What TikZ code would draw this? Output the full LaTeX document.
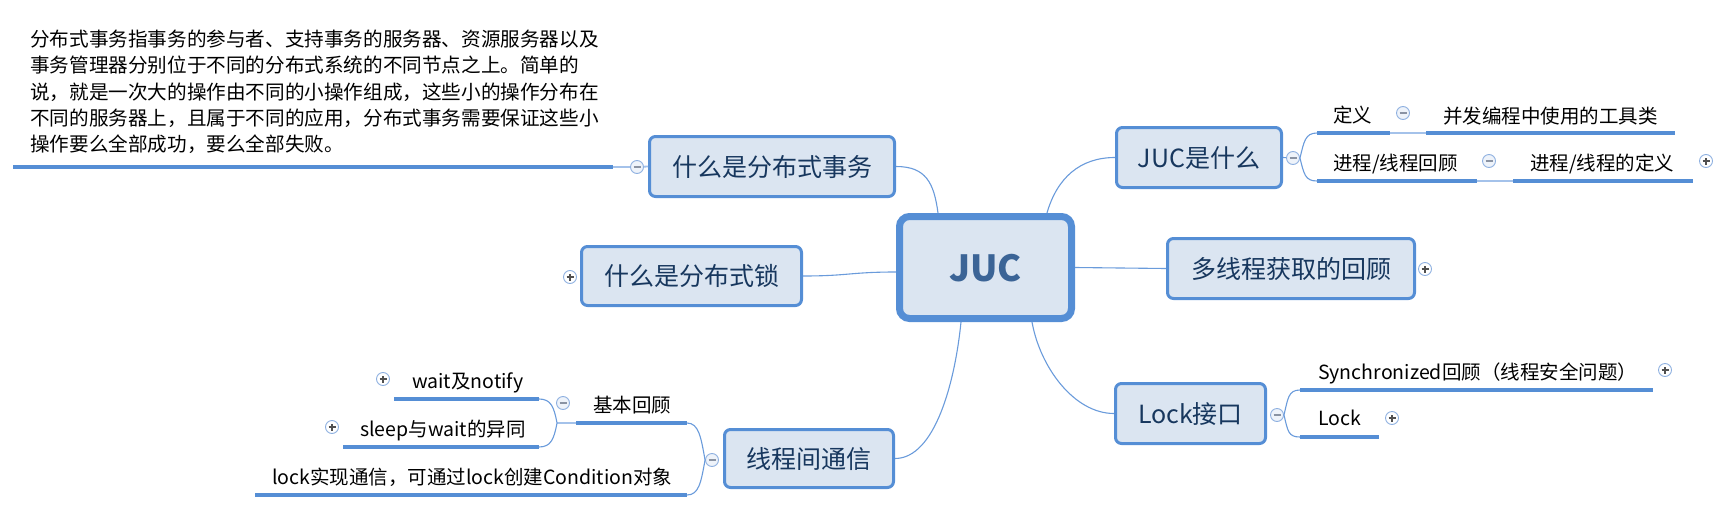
\documentclass[tikz,border=0pt]{standalone}
\usepackage{fontspec}
\setmainfont{Noto Sans CJK SC}
\usetikzlibrary{calc}
\definecolor{boxfill}{HTML}{DBE5F1}
\definecolor{boxborder}{HTML}{558ED5}
\definecolor{topictext}{HTML}{17375E}
\definecolor{juctext}{HTML}{3B6496}
\definecolor{ulcol}{HTML}{558ED5}
\definecolor{conncol}{HTML}{6A9BDB}
\definecolor{linkcol}{HTML}{A4C2EA}
\definecolor{circcol}{HTML}{8EB0E0}
\definecolor{circfill}{HTML}{EEF3FA}
\definecolor{signcol}{HTML}{8A93A3}
\definecolor{plussign}{HTML}{505050}
\tikzset{
  topic/.style={draw=boxborder, fill=boxfill, line width=3pt, rounded corners=6pt,
    text=topictext, font=\fontsize{25}{30}\selectfont, inner sep=0pt,
    text height=22pt, text depth=3pt},
  jucbox/.style={draw=boxborder, fill=boxfill, line width=7pt, rounded corners=10pt,
    text=juctext, font=\fontsize{36}{42}\selectfont\bfseries, inner sep=0pt,
    text height=27pt, text depth=0pt, minimum width=172pt, minimum height=102pt},
  subt/.style={font=\fontsize{19.5}{24}\selectfont, inner sep=0pt, anchor=west,
    text height=18pt, text depth=3pt},
  para/.style={font=\fontsize{19.6}{26.2}\selectfont, inner sep=0pt, align=left, anchor=north west},
  uline/.style={draw=ulcol, line width=4pt},
  conn/.style={draw=conncol, line width=1.1pt},
  link/.style={draw=linkcol, line width=1.8pt},
  minusc/.style={circle, draw=circcol, fill=circfill, line width=0.9pt, minimum size=13pt, inner sep=0pt,
    path picture={\draw[signcol, line width=1.3pt]
      ([xshift=-3.5pt]path picture bounding box.center) -- ([xshift=3.5pt]path picture bounding box.center);}},
  plusc/.style={circle, draw=circcol, fill=white, line width=0.9pt, minimum size=13pt, inner sep=0pt,
    path picture={\draw[plussign, line width=1.1pt]
      ([xshift=-3.5pt]path picture bounding box.center) -- ([xshift=3.5pt]path picture bounding box.center)
      ([yshift=-3.5pt]path picture bounding box.center) -- ([yshift=3.5pt]path picture bounding box.center);}},
}
\begin{document}
\begin{tikzpicture}[x=1pt,y=-1pt]
\useasboundingbox (0,0) rectangle (1722,514);

% ---------- main topics ----------
\node[jucbox] (JUC) at (985.5,267.5) {JUC};
\node[topic, minimum width=245pt, minimum height=60pt] (T1) at (772,166.5) {什么是分布式事务};
\node[topic, minimum width=220pt, minimum height=59pt] (T2) at (691.5,276) {什么是分布式锁};
\node[topic, minimum width=165pt, minimum height=60pt] (T3) at (1199,157.5) {JUC是什么};
\node[topic, minimum width=247pt, minimum height=60pt] (T4) at (1291,268.5) {多线程获取的回顾};
\node[topic, minimum width=150pt, minimum height=60pt] (T5) at (1190.5,413.5) {Lock接口};
\node[topic, minimum width=169pt, minimum height=58pt] (T6) at (809,458.5) {线程间通信};

% ---------- connectors from JUC ----------
\draw[conn] ($(JUC.north)+(-47.5,0)$) .. controls +(-4,-30) and +(30,0) .. (T1.east);
\draw[conn] ($(JUC.west)+(0,4.5)$) .. controls +(-45,0) and +(45,0) .. (T2.east);
\draw[conn] ($(JUC.north)+(61.5,0)$) .. controls +(10,-35) and +(-35,0) .. (T3.west);
\draw[conn] (JUC.east) -- (T4.west);
\draw[conn] ($(JUC.south)+(46.5,0)$) .. controls +(8,45) and +(-40,0) .. (T5.west);
\draw[conn] ($(JUC.south)+(-24.5,0)$) .. controls +(-6,60) and +(40,0) .. (T6.east);

% ---------- 什么是分布式事务 ----------
\node[para] (P) at (30,30) {分布式事务指事务的参与者、支持事务的服务器、资源服务器以及\\
事务管理器分别位于不同的分布式系统的不同节点之上。简单的\\
说，就是一次大的操作由不同的小操作组成，这些小的操作分布在\\
不同的服务器上，且属于不同的应用，分布式事务需要保证这些小\\
操作要么全部成功，要么全部失败。};
\coordinate (PL) at (13,167);
\coordinate (PR) at (613,167);
\node[minusc] (m1) at (637,167) {};
\draw[uline] (PL) -- (PR);
\draw[link] (PR) -- (m1);
\draw[link] (m1) -- (T1.west);

% ---------- 什么是分布式锁 ----------
\node[plusc] (p2) at (570,277) {};

% ---------- JUC是什么 ----------
\node[minusc] (m3) at (1293,158) {};
\draw[conn] (T3.east) -- (m3);
\node[subt] (defT) at (1333,115) {定义};
\coordinate (defL) at (1317,133);
\coordinate (defR) at (1390,133);
\node[minusc] (md) at (1403,113) {};
\node[subt] (bingT) at (1443,116) {并发编程中使用的工具类};
\coordinate (bingL) at (1426,133);
\coordinate (bingR) at (1675,133);
\node[subt] (jcT) at (1333,163) {进程/线程回顾};
\coordinate (jcL) at (1317,181);
\coordinate (jcR) at (1477,181);
\node[minusc] (mj) at (1489,161) {};
\node[subt] (jcdT) at (1530,163) {进程/线程的定义};
\coordinate (jcdL) at (1513,181);
\coordinate (jcdR) at (1693,181);
\node[plusc] (pj) at (1706,161) {};
\draw[conn] (m3.east) .. controls +(4,-16) and +(-12,0) .. (defL);
\draw[conn] (m3.east) .. controls +(4,16) and +(-12,0) .. (jcL);
\draw[uline] (defL) -- (defR);
\draw[link] (defR) -- (bingL);
\draw[uline] (bingL) -- (bingR);
\draw[uline] (jcL) -- (jcR);
\draw[link] (jcR) -- (jcdL);
\draw[uline] (jcdL) -- (jcdR);

% ---------- 多线程获取的回顾 ----------
\node[plusc] (p4) at (1425,269) {};

% ---------- Lock接口 ----------
\node[minusc] (m5) at (1277,415) {};
\node[subt] (synT) at (1318,372) {Synchronized回顾（线程安全问题）};
\coordinate (synL) at (1300,390);
\coordinate (synR) at (1653,390);
\node[plusc] (ps) at (1665,370) {};
\node[subt] (lockT) at (1318,418) {Lock};
\coordinate (lockL) at (1300,437);
\coordinate (lockR) at (1379,437);
\node[plusc] (pl) at (1392,418) {};
\draw[conn] (m5.east) .. controls +(4,-16) and +(-12,0) .. (synL);
\draw[conn] (m5.east) .. controls +(4,16) and +(-12,0) .. (lockL);
\draw[uline] (synL) -- (synR);
\draw[uline] (lockL) -- (lockR);

% ---------- 线程间通信 ----------
\node[minusc] (m6) at (712,460) {};
\node[subt] (jbT) at (593,405) {基本回顾};
\coordinate (jbL) at (576,423);
\coordinate (jbR) at (687,423);
\node[minusc] (m7) at (563,403) {};
\coordinate (bp) at (557,423);
\node[subt] (waitT) at (412,381) {wait及notify};
\coordinate (waitL) at (394,399);
\coordinate (waitR) at (539,399);
\node[plusc] (pw) at (383,379) {};
\node[subt] (sleepT) at (360,429) {sleep与wait的异同};
\coordinate (sleepL) at (343,447);
\coordinate (sleepR) at (539,447);
\node[plusc] (psl) at (332,427) {};
\node[subt] (lcT) at (272,477) {lock实现通信，可通过lock创建Condition对象};
\coordinate (lcL) at (255,495);
\coordinate (lcR) at (687,495);
\draw[conn] (m6.west) .. controls +(-4,-22) and +(12,0) .. (jbR);
\draw[conn] (m6.west) .. controls +(-4,22) and +(12,0) .. (lcR);
\draw[uline] (jbL) -- (jbR);
\draw[uline] (lcL) -- (lcR);
\draw[link] (jbL) -- (bp);
\draw[conn] (bp) .. controls +(-3,-16) and +(12,0) .. (waitR);
\draw[conn] (bp) .. controls +(-3,16) and +(12,0) .. (sleepR);
\draw[uline] (waitL) -- (waitR);
\draw[uline] (sleepL) -- (sleepR);
\end{tikzpicture}
\end{document}
